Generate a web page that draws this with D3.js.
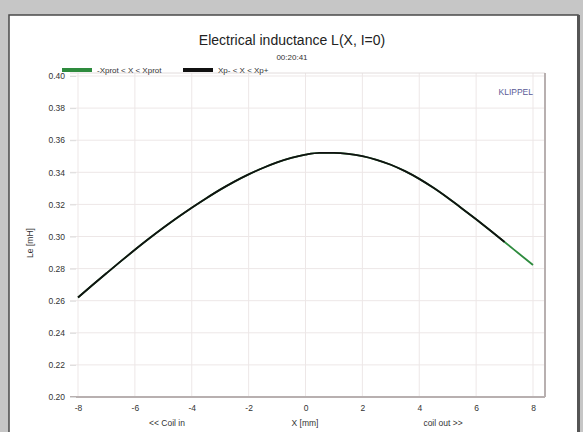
<!DOCTYPE html>
<html lang="en">

<head>
    <meta charset="UTF-8">
    <title>Electrical inductance</title>
    <style>
        body {
            margin: 0;
            background-color: #c6c6c6;
            font-family: 'Liberation Sans', Arial, sans-serif;
        }

        #chart svg {
            display: block;
        }

        .tick text {
            fill: #333;
            font-size: 8.5px;
        }
    </style>
</head>

<body>
    <div id='chart'></div>
</body>

</html>
<script src="https://cdnjs.cloudflare.com/ajax/libs/d3/7.8.5/d3.min.js"></script>
<script>
    // displacement X [mm]
    const xValues = [-8, -7.5, -7, -6.5, -6, -5.5, -5, -4.5, -4, -3.5, -3, -2.5, -2, -1.5, -1, -0.5,
        0, 0.5, 1, 1.5, 2, 2.5, 3, 3.5, 4, 4.5, 5, 5.5, 6, 6.5, 7, 7.5, 8];
    // Le [mH]
    const leValues = [0.2620, 0.2696, 0.2771, 0.2845, 0.2917, 0.2987, 0.3054, 0.3118, 0.3179, 0.3237,
        0.3292, 0.3342, 0.3387, 0.3427, 0.3462, 0.3490, 0.3510, 0.3521, 0.3521, 0.3515, 0.3501,
        0.3478, 0.3447, 0.3407, 0.3359, 0.3303, 0.3241, 0.3175, 0.3107, 0.3037, 0.2966, 0.2894, 0.2822];
    // range of the black curve (Xp- < X < Xp+)
    const xpRange = [-7.8, 7.0];
    const xTicks = [-8, -6, -4, -2, 0, 2, 4, 6, 8];
    const yTicks = [0.20, 0.22, 0.24, 0.26, 0.28, 0.30, 0.32, 0.34, 0.36, 0.38, 0.40];
    const legendLabels = ['-Xprot < X < Xprot', 'Xp- < X < Xp+'];

    const W = 583, H = 432;
    const svg = d3.select('#chart').append('svg')
        .attr('width', W)
        .attr('height', H);

    // white panel
    svg.append('rect')
        .attr('x', 9).attr('y', 15)
        .attr('width', 569).attr('height', H)
        .attr('fill', '#fff')
        .attr('stroke', '#4a4a4a')
        .attr('stroke-width', 1.5);
    svg.append('line')
        .attr('x1', 578.5).attr('x2', 578.5)
        .attr('y1', 15).attr('y2', H)
        .attr('stroke', '#555').attr('stroke-width', 3);

    const x = d3.scaleLinear().domain([-8, 8]).range([78, 533]);
    const y = d3.scaleLinear().domain([0.2, 0.4]).range([397, 76]);
    const frame = { left: 70, right: 545, top: 73, bottom: 397 };

    // gridlines
    svg.append('g').selectAll('line').data(xTicks).enter().append('line')
        .attr('x1', d => x(d)).attr('x2', d => x(d))
        .attr('y1', frame.top).attr('y2', frame.bottom)
        .attr('stroke', '#ede7e7').attr('stroke-width', 1);
    svg.append('g').selectAll('line').data(yTicks).enter().append('line')
        .attr('x1', frame.left).attr('x2', frame.right)
        .attr('y1', d => y(d)).attr('y2', d => y(d))
        .attr('stroke', '#ede7e7').attr('stroke-width', 1);

    // frame
    svg.append('line')
        .attr('x1', frame.left).attr('x2', frame.right)
        .attr('y1', frame.top).attr('y2', frame.top)
        .attr('stroke', '#e2dcdc');
    svg.append('line')
        .attr('x1', frame.right).attr('x2', frame.right)
        .attr('y1', frame.top).attr('y2', frame.bottom)
        .attr('stroke', '#b8b0b0').attr('stroke-width', 2);
    svg.append('line')
        .attr('x1', frame.left).attr('x2', frame.right)
        .attr('y1', frame.bottom).attr('y2', frame.bottom)
        .attr('stroke', '#b8b0b0').attr('stroke-width', 2);

    // axes
    const yAxis = svg.append('g')
        .attr('transform', 'translate(' + frame.left + ',0)')
        .call(d3.axisLeft(y).tickValues(yTicks).tickFormat(d3.format('.2f')).tickSize(0).tickPadding(5));
    yAxis.select('.domain').remove();
    yAxis.selectAll('.tick').append('line')
        .attr('x1', 0).attr('x2', 6)
        .attr('stroke', '#ddd');

    const xAxis = svg.append('g')
        .attr('transform', 'translate(0,' + (frame.bottom + 4) + ')')
        .call(d3.axisBottom(x).tickValues(xTicks).tickFormat(d3.format('d')).tickSize(0).tickPadding(4));
    xAxis.select('.domain').remove();
    xAxis.selectAll('.tick text').text(d => d < 0 ? '-' + Math.abs(d) : d);

    // axis titles
    svg.append('text')
        .attr('transform', 'translate(33,243) rotate(-90)')
        .attr('text-anchor', 'middle')
        .attr('font-size', 8.5).attr('fill', '#333')
        .text('Le [mH]');
    const xTitles = [['<< Coil in', 167], ['X [mm]', 305], ['coil out >>', 443]];
    svg.append('g').selectAll('text').data(xTitles).enter().append('text')
        .attr('x', d => d[1]).attr('y', 426)
        .attr('text-anchor', 'middle')
        .attr('font-size', 8.5).attr('fill', '#333')
        .text(d => d[0]);

    // title
    svg.append('text')
        .attr('x', 292).attr('y', 45)
        .attr('text-anchor', 'middle')
        .attr('font-size', 14).attr('fill', '#222')
        .text('Electrical inductance L(X, I=0)');
    svg.append('text')
        .attr('x', 292).attr('y', 60)
        .attr('text-anchor', 'middle')
        .attr('font-size', 8).attr('fill', '#333')
        .text('00:20:41');

    // KLIPPEL logo
    svg.append('text')
        .attr('x', 533).attr('y', 95)
        .attr('text-anchor', 'end')
        .attr('font-size', 8.5).attr('fill', '#5a5a96')
        .text('KLIPPEL');

    // legend
    const legendColors = ['#2e8b3e', '#111'];
    const legendX = [62, 183];
    const lg = svg.append('g').selectAll('g').data(legendLabels).enter().append('g')
        .attr('transform', (d, i) => 'translate(' + legendX[i] + ',70)');
    lg.append('line')
        .attr('x1', 0).attr('x2', 30)
        .attr('stroke', (d, i) => legendColors[i]).attr('stroke-width', 4);
    lg.append('text')
        .attr('x', 35).attr('y', 3)
        .attr('font-size', 8).attr('fill', '#333')
        .text(d => d);

    // curves
    const data = xValues.map((d, i) => ({ x: d, le: leValues[i] }));
    const line = d3.line()
        .x(d => x(d.x))
        .y(d => y(d.le))
        .curve(d3.curveMonotoneX);

    svg.append('path')
        .datum(data)
        .attr('fill', 'none')
        .attr('stroke', legendColors[0])
        .attr('stroke-width', 1.8)
        .attr('d', line);

    svg.append('path')
        .datum(data.filter(d => d.x >= xpRange[0] - 0.3 && d.x <= xpRange[1]))
        .attr('fill', 'none')
        .attr('stroke', legendColors[1])
        .attr('stroke-width', 1.8)
        .attr('d', line);
</script>
